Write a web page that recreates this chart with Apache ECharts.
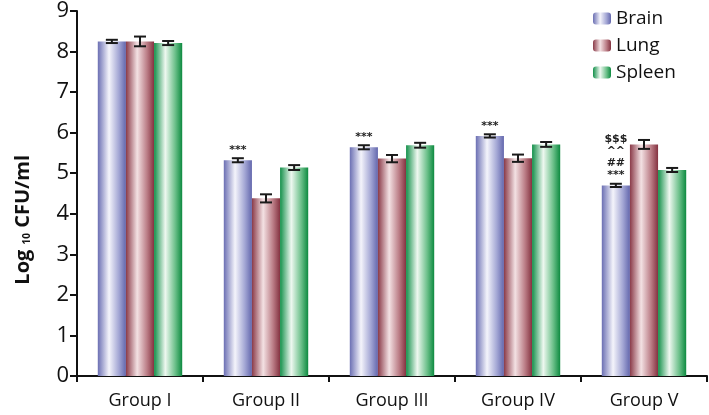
<!DOCTYPE html>
<html><head><meta charset="utf-8">
<script src="https://cdn.jsdelivr.net/npm/echarts@6/dist/echarts.min.js"></script>
<style>html,body{margin:0;padding:0;background:#fff}#c{width:709px;height:415px}</style>
</head><body><div id="c"></div>
<script>
const categories = ['Group I','Group II','Group III','Group IV','Group V'];
const seriesNames = ['Brain','Lung','Spleen'];
const brain = [8.25, 5.32, 5.64, 5.92, 4.70];
const lung = [8.25, 4.38, 5.36, 5.37, 5.71];
const spleen = [8.21, 5.14, 5.69, 5.71, 5.08];
const brainErr = [0.04, 0.05, 0.05, 0.04, 0.04];
const lungErr = [0.12, 0.10, 0.09, 0.09, 0.11];
const spleenErr = [0.05, 0.06, 0.06, 0.06, 0.05];
const brainMarks = ['', '***', '***', '***', '$$$\n^^\n##\n***'];
const yTicks = [0,1,2,3,4,5,6,7,8,9];
const yTitle = 'Log {s|10} CFU/ml';

const palettes = [
  ['#6b6fb3','#f4f4fb','#a3a6d4','#6367ad'],
  ['#8a3a48','#f3e1e3','#bb7d86','#843240'],
  ['#13904a','#eef8f0','#6cc08a','#0d8a40']
];
function grad(p){
  return new echarts.graphic.LinearGradient(0,0,1,0,[
    {offset:0,color:p[0]},{offset:0.4,color:p[1]},{offset:0.75,color:p[2]},{offset:1,color:p[3]}]);
}
const values = [brain, lung, spleen];
const errs = [brainErr, lungErr, spleenErr];
const gapRatio = 0.33;

const barSeries = seriesNames.map((n,i)=>({
  name:n, type:'bar', barGap:'0%', barCategoryGap:'33%',
  itemStyle:{color:grad(palettes[i])},
  data: values[i].map((v,j)=>{
    const d = {value:v};
    if(i===0 && brainMarks[j]){
      d.label = {show:true, position:'top', distance:4, formatter:brainMarks[j],
        fontSize:11, fontWeight:'bold', color:'#222', lineHeight:12, fontFamily:'DejaVu Sans'};
    }
    return d;
  })
}));

const errSeries = seriesNames.map((n,i)=>({
  type:'custom', name:n+'err', silent:true, z:5,
  data: values[i].map((v,j)=>[j, v, errs[i][j]]),
  renderItem:(params, api)=>{
    const cat = api.value(0), v = api.value(1), e = api.value(2);
    const band = api.size([1,0])[0];
    const bw = band*(1-gapRatio)/3;
    const c = api.coord([cat, v]);
    const x = c[0] - 1.5*bw + bw*(i+0.5);
    const top = api.coord([cat, v+e])[1];
    const bot = api.coord([cat, v-e])[1];
    const cap = 6;
    const st = {stroke:'#1a1a1a', lineWidth:2};
    return {type:'group', children:[
      {type:'line', shape:{x1:x,y1:top,x2:x,y2:bot}, style:st},
      {type:'line', shape:{x1:x-cap,y1:top,x2:x+cap,y2:top}, style:st},
      {type:'line', shape:{x1:x-cap,y1:bot,x2:x+cap,y2:bot}, style:st}
    ]};
  }
}));

const chart = echarts.init(document.getElementById('c'));
chart.setOption({
  animation:false,
  textStyle:{fontFamily:'Open Sans'},
  grid:{left:77, right:2, top:10, bottom:39},
  legend:{
    data: seriesNames.map((n,i)=>({name:n, itemStyle:{color:grad(palettes[i])}})),
    orient:'vertical', left:588, top:4, itemWidth:18, itemHeight:12, itemGap:8,
    textStyle:{fontSize:19, color:'#111', fontFamily:'Open Sans'}
  },
  graphic:[{
    type:'text', left:13, top:155,
    style:{text:yTitle, font:'bold 20px "Open Sans"', fill:'#111',
      rich:{s:{fontSize:10, fontWeight:'bold', fill:'#111', fontFamily:'Open Sans', padding:[8,0,0,0]}}},
    rotation:Math.PI/2, originX:0, originY:0
  }],
  xAxis:{
    type:'category', data:categories,
    axisLine:{lineStyle:{color:'#111', width:2}},
    axisTick:{show:true, length:6, lineStyle:{color:'#111', width:2}},
    axisLabel:{fontSize:18, color:'#111', margin:16}
  },
  yAxis:{
    type:'value', min:0, max:9, interval:1,
    splitLine:{show:false},
    axisLine:{show:true, lineStyle:{color:'#111', width:2}},
    axisTick:{show:true, length:7, lineStyle:{color:'#111', width:2}},
    axisLabel:{fontSize:22, color:'#111', margin:8,
      formatter:(v)=> yTicks.includes(v) ? String(v) : ''}
  },
  series: barSeries.concat(errSeries)
});
</script></body></html>
